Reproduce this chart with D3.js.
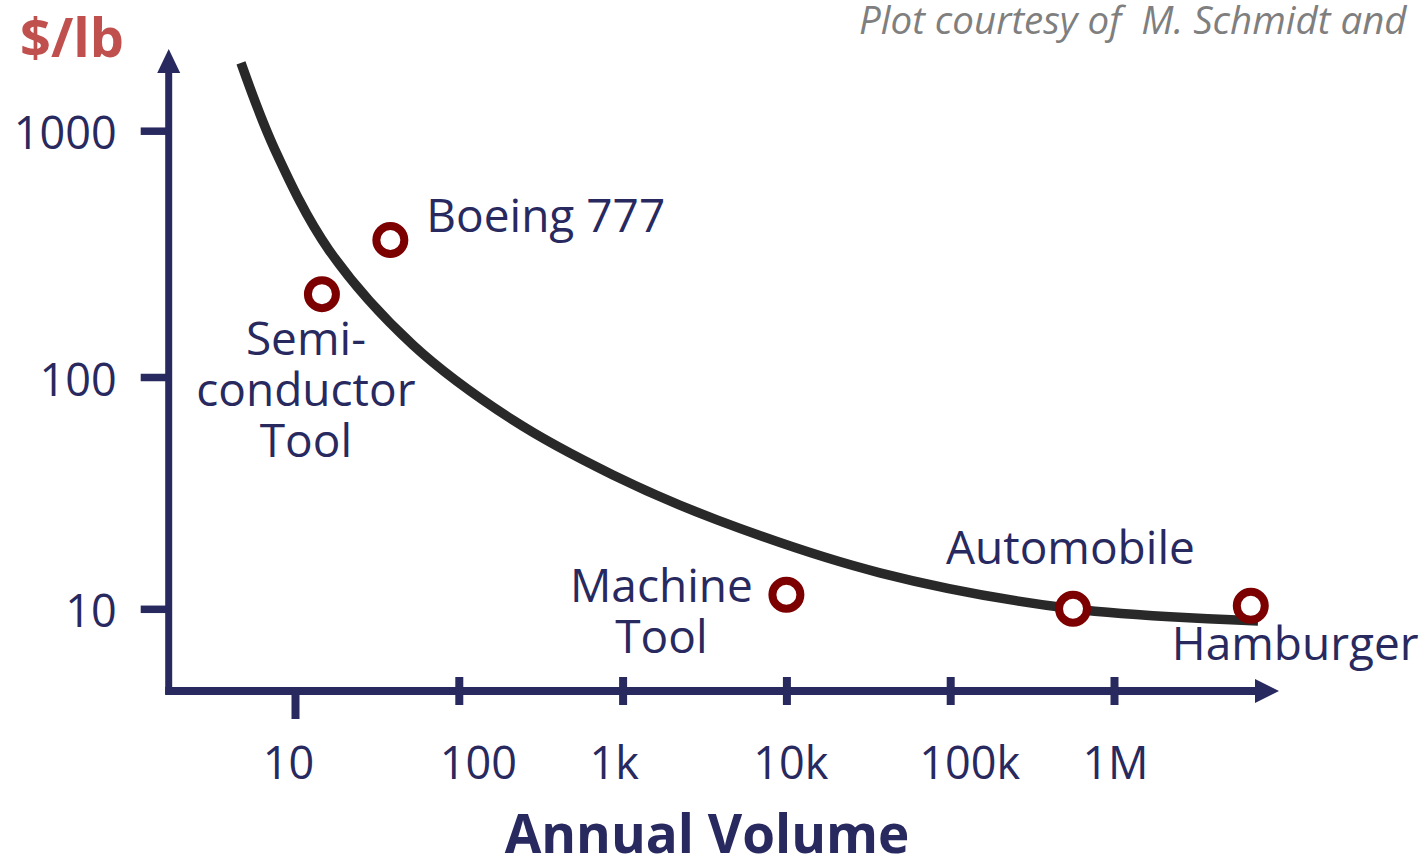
<!DOCTYPE html>
<html>
<head>
<meta charset="utf-8">
<script src="https://cdn.jsdelivr.net/npm/d3@7"></script>
<style>
  body { margin: 0; background: #fff; }
  svg { display: block; font-family: "Open Sans", sans-serif; }
</style>
</head>
<body>
<svg id="chart" width="1425" height="861"></svg>
<script>
// cost curve (annual volume, $/lb)
var curveVolume = [4.68, 7.55, 16.1, 52.5, 214, 873, 3767, 37200, 562000, 7.57e6];
var curvePrice = [1884, 835, 328, 134.9, 65.2, 37.8, 24.2, 14.3, 10.0, 8.86];

// products
var productNames = [["Semi-", "conductor", "Tool"], ["Boeing 777"], ["Machine", "Tool"], ["Automobile"], ["Hamburger"]];
var productVolume = [14.6, 38.2, 10000, 562000, 6.84e6];
var productPrice = [217, 360, 11.5, 10.0, 10.3];

// axes
var xTickValues = [10, 100, 1e3, 1e4, 1e5, 1e6];
var xTickLabels = ["10", "100", "1k", "10k", "100k", "1M"];
var yTickValues = [10, 100, 1000];
var yTickLabels = ["10", "100", "1000"];

// ---- layout / style ----
var navy = "#28295f";
var svg = d3.select("#chart");
var originX = 168.7, originY = 691;

//label placement relative to its point: anchor, dx, first baseline dy
var labelPlacement = [
  { anchor: "middle", dx: -16, dy: 61 },
  { anchor: "start", dx: 36, dy: -8 },
  { anchor: "middle", dx: -125, dy: 7 },
  { anchor: "start", dx: -127, dy: -45 },
  { anchor: "start", dx: -79, dy: 54 }
];
var xLabelShift = [-7, 19, -9, 4, 19, 1];

var x = d3.scaleLog().domain([10, 1e6]).range([295, 1114]);
var y = d3.scaleLog().domain([10, 100, 1000]).range([608.8, 377, 130.7]);

// axis lines with arrow heads
svg.append("line")
  .attr("x1", originX).attr("y1", originY + 3.5)
  .attr("x2", originX).attr("y2", 72)
  .attr("stroke", navy).attr("stroke-width", 7);
svg.append("path")
  .attr("d", "M" + originX + ",49L" + (originX - 11.5) + ",73L" + (originX + 11.5) + ",73Z")
  .attr("fill", navy);

svg.append("line")
  .attr("x1", originX - 3.5).attr("y1", originY)
  .attr("x2", 1257).attr("y2", originY)
  .attr("stroke", navy).attr("stroke-width", 8);
svg.append("path")
  .attr("d", "M1279," + originY + "L1255," + (originY - 12) + "L1255," + (originY + 12) + "Z")
  .attr("fill", navy);

// y ticks
var yAxis = d3.axisLeft(y)
  .tickValues(yTickValues)
  .tickFormat(function (d, i) { return yTickLabels[i]; })
  .tickSizeInner(28).tickSizeOuter(0).tickPadding(24);
var gy = svg.append("g")
  .attr("transform", "translate(" + originX + ",0)")
  .call(yAxis)
  .attr("font-family", null).attr("font-size", 45);
gy.select(".domain").remove();
gy.selectAll(".tick line").attr("stroke", navy).attr("stroke-width", 7.5);
gy.selectAll(".tick text").attr("fill", navy).attr("dy", null).attr("y", 18);

// x ticks
var xAxis = d3.axisBottom(x)
  .tickValues(xTickValues)
  .tickFormat(function (d, i) { return xTickLabels[i]; })
  .tickSizeOuter(0);
var gx = svg.append("g")
  .attr("transform", "translate(0," + originY + ")")
  .call(xAxis)
  .attr("font-family", null).attr("font-size", 45);
gx.select(".domain").remove();
gx.selectAll(".tick line")
  .attr("stroke", navy).attr("stroke-width", 8)
  .attr("y1", function (d) { return d === 10 ? 0 : -14; })
  .attr("y2", function (d) { return d === 10 ? 28 : 14; });
gx.selectAll(".tick text")
  .attr("fill", navy).attr("dy", null).attr("y", 87.5)
  .attr("x", function (d, i) { return xLabelShift[i]; });

// cost curve
var curvePoints = curveVolume.map(function (v, i) { return [v, curvePrice[i]]; });
var line = d3.line()
  .x(function (d) { return x(d[0]); })
  .y(function (d) { return y(d[1]); })
  .curve(d3.curveCatmullRom.alpha(0.5));
svg.append("path")
  .datum(curvePoints)
  .attr("d", line)
  .attr("fill", "none")
  .attr("stroke", "#292929")
  .attr("stroke-width", 9.5);

// product points
svg.selectAll("circle.product")
  .data(productVolume)
  .enter().append("circle")
  .attr("class", "product")
  .attr("cx", function (d) { return x(d); })
  .attr("cy", function (d, i) { return y(productPrice[i]); })
  .attr("r", 14)
  .attr("fill", "#fff")
  .attr("stroke", "#7c0000")
  .attr("stroke-width", 8);

// product labels
productNames.forEach(function (lines, i) {
  var p = labelPlacement[i];
  var px = x(productVolume[i]) + p.dx;
  var py = y(productPrice[i]) + p.dy;
  var t = svg.append("text")
    .attr("text-anchor", p.anchor)
    .attr("font-size", 46)
    .attr("fill", navy);
  lines.forEach(function (s, j) {
    t.append("tspan").attr("x", px).attr("y", py + j * 51).text(s);
  });
});

// titles
svg.append("text")
  .attr("x", 20).attr("y", 57)
  .attr("font-size", 54).attr("font-weight", "bold")
  .attr("fill", "#c0504d")
  .text("$/lb");

svg.append("text")
  .attr("x", 707).attr("y", 853)
  .attr("text-anchor", "middle")
  .attr("font-size", 53).attr("font-weight", "bold")
  .attr("fill", navy)
  .text("Annual Volume");

svg.append("text")
  .attr("x", 859).attr("y", 34)
  .attr("font-size", 38.5).attr("font-style", "italic")
  .attr("fill", "#7f7f7f")
  .style("white-space", "pre")
  .text("Plot courtesy of  M. Schmidt and");
</script>
</body>
</html>
